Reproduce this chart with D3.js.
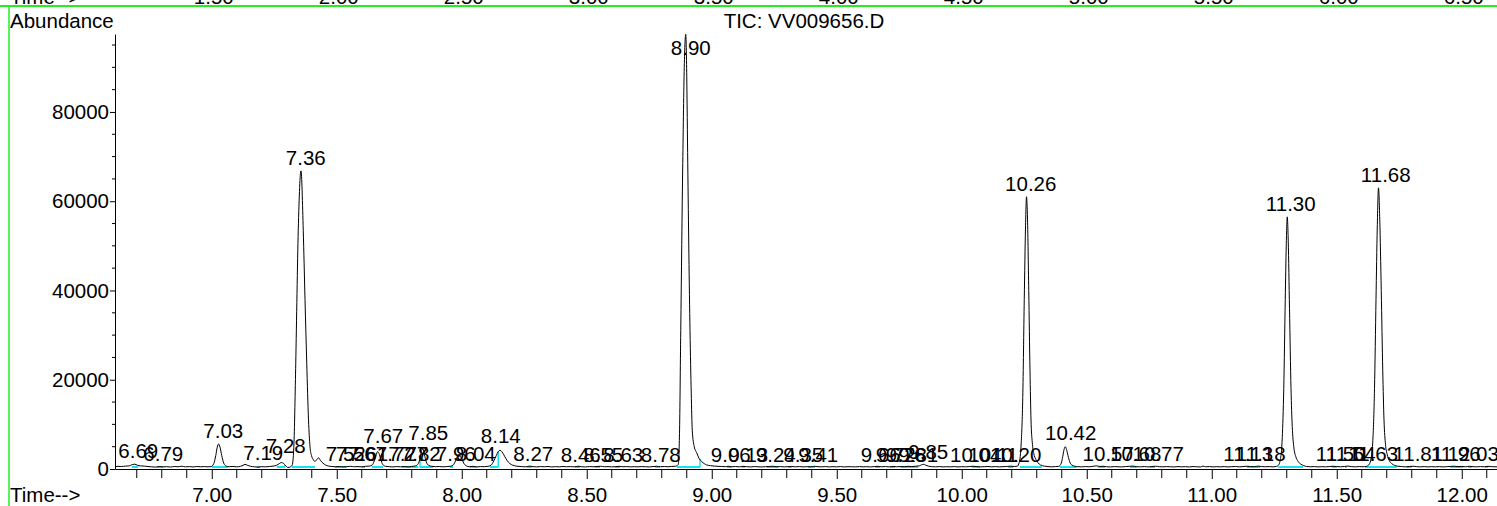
<!DOCTYPE html>
<html>
<head>
<meta charset="utf-8">
<script src="https://cdn.jsdelivr.net/npm/d3@7"></script>
<style>
  body { margin: 0; background: #fff; }
  svg { display: block; font-family: "Liberation Sans", Arial, sans-serif; }
</style>
</head>
<body>
<svg id="chart"></svg>
<script>
// TIC trace, [time (min), abundance]
var trace = [
  // 6.61 - 7.00
  [6.613,520],[6.625,600],[6.64,560],[6.655,650],[6.67,700],[6.682,1000],[6.692,1080],[6.702,850],[6.715,700],[6.73,650],
  [6.745,550],[6.76,480],[6.775,420],[6.79,560],[6.805,470],[6.82,520],[6.835,440],[6.85,560],[6.865,500],[6.88,620],
  [6.895,480],[6.91,540],[6.925,460],[6.94,560],[6.955,500],[6.97,540],[6.985,480],[6.998,560],
  // 7.03
  [7.008,1200],[7.016,3000],[7.022,4900],[7.027,5600],[7.033,4900],[7.04,3000],[7.048,1300],[7.058,650],
  [7.07,520],[7.085,560],[7.10,480],[7.115,600],[7.125,800],[7.133,1050],[7.142,850],[7.155,600],[7.17,500],[7.185,420],
  [7.20,520],[7.215,480],[7.23,560],[7.245,640],[7.26,850],[7.27,1200],[7.278,1450],[7.287,1250],[7.296,700],[7.305,330],[7.315,500],
  // 7.36
  [7.322,900],[7.329,6000],[7.336,23700],[7.346,53500],[7.357,66800],[7.366,53500],[7.373,38000],[7.380,23700],[7.387,11000],
  [7.393,5000],[7.399,3000],[7.405,2200],[7.413,1700],[7.420,2100],[7.427,2500],[7.435,1900],[7.445,1300],[7.455,900],[7.468,650],
  [7.48,560],[7.495,500],[7.51,560],[7.525,470],[7.54,530],[7.555,600],[7.57,500],[7.585,540],[7.60,480],[7.615,600],[7.63,650],[7.642,900],
  // 7.67
  [7.650,1800],[7.657,3000],[7.663,3900],[7.669,3500],[7.676,2200],[7.684,1000],[7.695,600],
  [7.71,520],[7.725,460],[7.74,540],[7.755,500],[7.77,560],[7.785,480],[7.80,580],[7.815,700],[7.826,1200],
  // 7.85
  [7.834,2600],[7.840,4200],[7.845,4500],[7.851,3200],[7.858,1600],[7.868,800],[7.88,600],
  [7.895,520],[7.91,560],[7.925,480],[7.94,540],[7.955,620],[7.966,900],[7.975,1800],[7.983,2700],[7.992,2900],[8.000,2300],
  [8.008,1300],[8.018,700],[8.03,520],[8.045,600],[8.06,470],[8.075,540],[8.09,520],[8.105,600],[8.118,900],
  // 8.14
  [8.128,1800],[8.138,3000],[8.146,3900],[8.153,4200],[8.160,3900],[8.168,3200],[8.177,2300],[8.187,1500],[8.198,1000],[8.21,750],[8.225,600],
  [8.24,540],[8.255,480],[8.27,650],[8.285,520],[8.30,470],[8.315,540],[8.33,500],[8.345,560],[8.36,460],[8.375,520],
  [8.39,480],[8.405,560],[8.42,500],[8.435,540],[8.45,480],[8.465,620],[8.48,500],[8.495,460],[8.51,540],[8.525,500],
  [8.54,560],[8.555,620],[8.57,500],[8.585,540],[8.60,470],[8.615,520],[8.63,600],[8.645,500],[8.66,540],[8.675,470],
  [8.69,520],[8.705,480],[8.72,540],[8.735,500],[8.75,470],[8.765,540],[8.78,620],[8.795,520],[8.81,560],[8.825,500],
  [8.84,580],[8.855,620],
  // 8.90
  [8.866,1000],[8.871,8000],[8.876,31000],[8.884,68500],[8.890,90000],[8.896,97400],[8.900,88000],[8.904,68500],[8.913,31000],
  [8.918,17000],[8.922,8700],[8.930,5000],[8.940,3600],[8.950,2300],[8.960,1650],[8.970,1200],[8.980,900],[8.995,750],
  [9.01,650],[9.025,600],[9.04,560],[9.055,520],[9.065,620],[9.08,500],[9.095,560],[9.11,480],[9.125,600],[9.14,520],
  [9.155,460],[9.17,540],[9.185,500],[9.20,460],[9.215,520],[9.23,560],[9.245,620],[9.26,500],[9.275,540],[9.29,470],
  [9.305,520],[9.32,560],[9.335,480],[9.35,540],[9.365,470],[9.38,520],[9.395,500],[9.41,600],[9.425,520],[9.44,480],
  [9.455,540],[9.47,470],[9.485,520],[9.50,480],[9.515,540],[9.53,460],[9.545,520],[9.56,500],[9.575,470],[9.59,540],
  [9.605,480],[9.62,520],[9.635,460],[9.65,540],[9.665,600],[9.68,500],[9.695,540],[9.71,480],[9.725,580],[9.74,500],
  [9.755,560],[9.77,520],[9.785,600],[9.80,540],[9.815,620],[9.83,700],[9.84,950],[9.848,1050],[9.856,850],[9.868,620],
  [9.88,520],[9.895,480],[9.91,540],[9.925,470],[9.94,520],[9.955,480],[9.97,540],[9.985,460],[10.00,520],[10.015,480],
  [10.03,540],[10.045,620],[10.06,540],[10.075,480],[10.09,520],[10.105,560],[10.12,480],[10.135,540],[10.15,470],
  [10.165,520],[10.18,560],[10.195,640],[10.21,560],[10.222,620],
  // 10.26
  [10.230,1500],[10.238,6000],[10.244,16000],[10.250,38000],[10.255,54000],[10.259,61000],[10.263,56000],[10.268,40000],
  [10.273,22000],[10.277,11000],[10.282,6000],[10.288,3500],[10.296,2200],[10.305,1400],[10.315,900],[10.33,650],
  [10.345,540],[10.36,480],[10.375,540],[10.388,600],
  // 10.42
  [10.398,1300],[10.404,2800],[10.409,4300],[10.414,5000],[10.419,4400],[10.425,3000],[10.432,1600],[10.44,900],[10.452,620],
  [10.465,520],[10.48,480],[10.495,540],[10.51,500],[10.525,600],[10.54,700],[10.552,560],[10.565,620],[10.58,500],[10.595,460],
  [10.61,540],[10.625,500],[10.64,470],[10.655,540],[10.67,600],[10.685,650],[10.70,520],[10.715,480],[10.73,540],[10.745,470],
  [10.76,560],[10.775,620],[10.79,520],[10.805,480],[10.82,540],[10.835,500],[10.85,460],[10.865,540],[10.88,480],[10.895,520],
  [10.91,460],[10.925,540],[10.94,500],[10.955,460],[10.965,650],[10.975,500],[10.99,540],[11.005,470],[11.02,520],[11.035,480],
  [11.05,540],[11.065,460],[11.08,520],[11.095,560],[11.11,480],[11.125,540],[11.14,620],[11.155,560],[11.17,520],[11.185,640],
  [11.20,540],[11.215,500],[11.23,540],[11.245,480],[11.258,560],
  // 11.30
  [11.266,800],[11.274,2000],[11.282,7000],[11.288,18000],[11.294,38000],[11.298,50000],[11.302,56500],[11.306,51000],
  [11.311,36000],[11.317,18000],[11.322,9500],[11.328,5000],[11.336,2800],[11.345,1700],[11.356,1100],[11.368,750],
  [11.38,560],[11.395,500],[11.41,540],[11.425,470],[11.44,520],[11.455,480],[11.47,540],[11.485,620],[11.50,540],[11.515,500],
  [11.53,560],[11.545,650],[11.56,520],[11.575,480],[11.59,540],[11.605,500],[11.618,600],
  // 11.68
  [11.628,900],[11.636,2000],[11.644,6000],[11.651,18000],[11.657,38000],[11.662,54000],[11.667,63000],[11.672,56000],
  [11.678,40000],[11.684,22000],[11.689,11000],[11.695,5500],[11.702,3200],[11.71,1900],[11.72,1200],[11.732,800],[11.745,620],
  [11.76,540],[11.775,480],[11.79,560],[11.805,620],[11.82,520],[11.835,480],[11.85,540],[11.865,470],[11.88,520],[11.895,480],
  [11.91,540],[11.925,460],[11.94,520],[11.955,580],[11.97,620],[11.985,540],[12.00,580],[12.015,500],[12.03,600],[12.045,520],
  [12.06,480],[12.075,540],[12.09,500],[12.105,600],[12.12,520],[12.141,480]
];

// peak labels (retention times) and the height they sit at
var peakLabels = ["6.69","6.79","7.03","7.19","7.28","7.36","7.52","7.56","7.61","7.67","7.72","7.77","7.82","7.85",
  "7.96","8.04","8.14","8.27","8.46","8.55","8.63","8.78","8.90","9.06","9.13","9.24","9.35","9.41","9.66","9.72",
  "9.76","9.81","9.85","10.04","10.11","10.20","10.26","10.42","10.57","10.68","10.77","11.13","11.18","11.30","11.50",
  "11.54","11.63","11.68","11.81","11.96","12.03"];
var peakHeights = [1120,515,5740,740,2240,66800,515,515,515,4480,515,515,515,5220,
  600,600,4480,450,400,400,400,400,97400,400,400,400,300,400,400,400,
  400,400,960,400,400,400,61000,5220,515,515,515,515,515,56500,515,
  515,515,63000,515,515,515];

// integration baselines (cyan): start, end
var baselines = [[6.68,6.706],[6.78,6.806],[7.00,7.066],[7.18,7.193],[7.26,7.293],[7.32,7.413],[7.493,7.54],[7.60,7.613],
  [7.64,7.686],[7.76,7.826],[7.833,7.886],[7.953,7.965],[8.033,8.06],[8.113,8.146],[8.26,8.28],[8.453,8.473],[8.533,8.553],
  [8.613,8.633],[8.773,8.793],[8.861,8.953],[9.06,9.08],[9.12,9.133],[9.22,9.266],[9.306,9.32],[9.386,9.413],[9.653,9.673],
  [9.713,9.733],[9.753,9.826],[10.04,10.073],[10.186,10.206],[10.233,10.32],[10.393,10.46],[10.546,10.573],[10.673,10.70],
  [10.753,10.773],[11.14,11.193],[11.266,11.366],[11.48,11.50],[11.533,11.54],[11.613,11.74],[11.78,11.80],[11.953,12.006],
  [12.026,12.04],[12.093,12.106]];
// drop lines at peak splits: time, top abundance
var dropLines = [[7.293,900],[7.833,2200],[8.146,3900],[8.953,2300]];

var xMajor = [7.0,7.5,8.0,8.5,9.0,9.5,10.0,10.5,11.0,11.5,12.0];
var yMajor = [0,20000,40000,60000,80000];
// clipped tick labels of the panel above
var prevTickLabels = ["1.50","2.00","2.50","3.00","3.50","4.00","4.50","5.00","5.50","6.00","6.50"];

var svgWidth = 1497, svgHeight = 506;
var fontSize = "20.5px";

var svg = d3.select("#chart")
  .attr("width", svgWidth)
  .attr("height", svgHeight);

svg.append("rect").attr("width", svgWidth).attr("height", svgHeight).attr("fill", "#fff");

var x = d3.scaleLinear().domain([6.613, 12.141]).range([115, 1497]);
var y = d3.scaleLinear().domain([0, 97470]).range([469, 34]);
var xPrev = d3.scaleLinear().domain([1.113, 6.641]).range([115, 1497]);

// panel above (only the bottom of its labels shows)
svg.append("text").attr("x", 10).attr("y", 4).attr("font-size", fontSize).text("Time-->");
svg.selectAll(".prev").data(prevTickLabels).enter().append("text")
  .attr("x", d => xPrev(+d) + 2).attr("y", 4)
  .attr("text-anchor", "middle").attr("font-size", fontSize)
  .text(d => d);

// green frame
svg.append("line").attr("x1", 0).attr("x2", svgWidth).attr("y1", 6).attr("y2", 6)
  .attr("stroke", "#22ee22").attr("stroke-width", 2);
svg.append("line").attr("x1", 9).attr("x2", 9).attr("y1", 6).attr("y2", svgHeight)
  .attr("stroke", "#22ee22").attr("stroke-width", 1.5);

// titles
svg.append("text").attr("x", 10).attr("y", 27.5).attr("font-size", fontSize).text("Abundance");
svg.append("text").attr("x", 804).attr("y", 27.5).attr("text-anchor", "middle").attr("font-size", fontSize).text("TIC: VV009656.D");
svg.append("text").attr("x", 10).attr("y", 501.5).attr("font-size", fontSize).text("Time-->");

// x axis
var xAxis = svg.append("g")
  .attr("transform", "translate(0,469)")
  .call(d3.axisBottom(x).tickValues(xMajor).tickSize(10).tickSizeOuter(0).tickPadding(8).tickFormat(d3.format(".2f")));
xAxis.selectAll("text").attr("font-size", fontSize).attr("font-family", null).attr("fill", "#000");
xAxis.selectAll(".minor").data(d3.range(6.7, 12.15, 0.1).filter(v => Math.abs(v * 2 - Math.round(v * 2)) > 0.01))
  .enter().append("line").attr("class", "minor")
  .attr("x1", d => x(d)).attr("x2", d => x(d)).attr("y1", 0).attr("y2", 9)
  .attr("stroke", "#000");

// y axis
var yAxis = svg.append("g")
  .attr("transform", "translate(115,0)")
  .call(d3.axisLeft(y).tickValues(yMajor).tickSize(5).tickSizeOuter(0).tickPadding(1).tickFormat(d3.format("d")));
yAxis.selectAll("text").attr("font-size", fontSize).attr("font-family", null).attr("fill", "#000");
yAxis.selectAll(".minor").data(d3.range(5000, 97000, 5000).filter(v => v % 20000 !== 0))
  .enter().append("line").attr("class", "minor")
  .attr("x1", -3).attr("x2", 0).attr("y1", d => y(d)).attr("y2", d => y(d))
  .attr("stroke", "#000");

// integration baselines
svg.selectAll(".base").data(baselines).enter().append("line")
  .attr("x1", d => x(d[0])).attr("x2", d => x(d[1]))
  .attr("y1", y(450)).attr("y2", y(450))
  .attr("stroke", "#18e0f0").attr("stroke-width", 2);
svg.selectAll(".drop").data(dropLines).enter().append("line")
  .attr("x1", d => x(d[0])).attr("x2", d => x(d[0]))
  .attr("y1", y(450)).attr("y2", d => y(d[1]))
  .attr("stroke", "#18e0f0").attr("stroke-width", 1.5);

// trace
var line = d3.line()
  .x(d => x(d[0]))
  .y(d => y(d[1]))
  .curve(d3.curveMonotoneX);
svg.append("path").datum(trace)
  .attr("d", line)
  .attr("fill", "none")
  .attr("stroke", "#000")
  .attr("stroke-width", 1);

// peak labels
svg.selectAll(".peak").data(peakLabels).enter().append("text")
  .attr("x", d => x(+d) + 4)
  .attr("y", (d, i) => Math.max(y(peakHeights[i]) - 5.7, 55))
  .attr("text-anchor", "middle")
  .attr("font-size", fontSize)
  .text(d => d);
</script>
</body>
</html>
